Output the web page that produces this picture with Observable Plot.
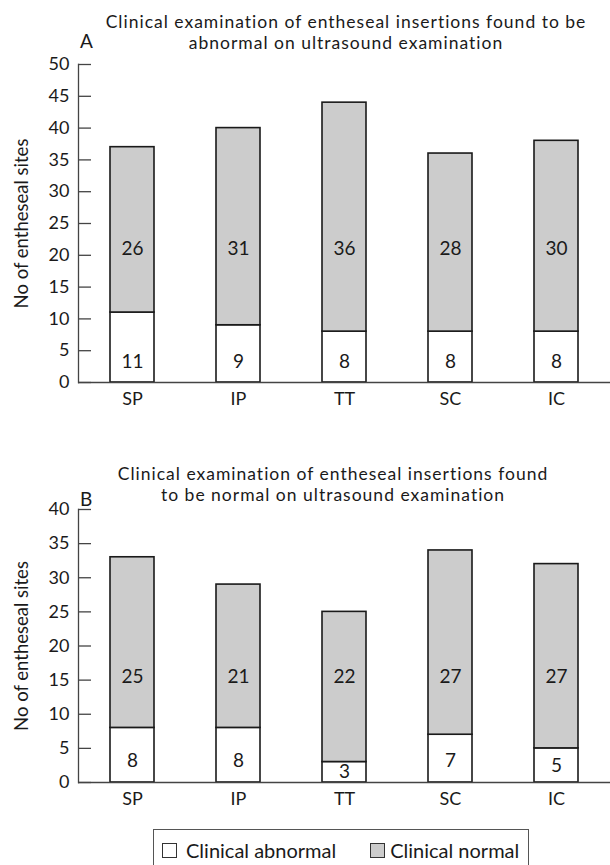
<!DOCTYPE html>
<html>
<head>
<meta charset="utf-8">
<script src="https://cdn.jsdelivr.net/npm/d3@7"></script>
<script src="https://cdn.jsdelivr.net/npm/@observablehq/plot@0.6"></script>
<style>
  body { margin: 0; background: #fff; font-family: Lato, "Noto Sans", sans-serif; color: #1a1a1a; }
  #root { position: relative; width: 610px; height: 865px; overflow: hidden; }
  .tline { position: absolute; transform: translateX(-50%); font-size: 17.5px; letter-spacing: 1px; line-height: 21px; height: 21px; white-space: nowrap; }
  .letter { position: absolute; font-size: 19px; line-height: 21px; }
  .chart { position: absolute; left: 0; }
  .legend { position: absolute; left: 153px; top: 829px; width: 376px; height: 42px; border: 1px solid #555; box-sizing: border-box;
            display: flex; align-items: center; padding-left: 8px; font-size: 20px; }
  .sw { width: 15px; height: 15px; border: 1px solid #333; box-sizing: border-box; display: inline-block; }
</style>
</head>
<body>
<div id="root"></div>
<script>
// ---- data ----
const sites = ["SP", "IP", "TT", "SC", "IC"];
const groups = ["Clinical abnormal", "Clinical normal"];
const abnormalA = [11, 9, 8, 8, 8];
const normalA = [26, 31, 36, 28, 30];
const abnormalB = [8, 8, 3, 7, 5];
const normalB = [25, 21, 22, 27, 27];
const ticksA = [0, 5, 10, 15, 20, 25, 30, 35, 40, 45, 50];
const ticksB = [0, 5, 10, 15, 20, 25, 30, 35, 40];
const titleA = ["Clinical examination of entheseal insertions found to be", "abnormal on ultrasound examination"];
const titleB = ["Clinical examination of entheseal insertions found", "to be normal on ultrasound examination"];
const yLabel = "No of entheseal sites";
const colors = ["#ffffff", "#cccccc"];

const root = document.getElementById("root");

function makeChart({abn, nor, ticks, plotH, top, normalLabelAt, title, titleX, titleY, letter, letterY}) {
  const rows = sites.flatMap((s, i) => [
    {site: s, group: groups[0], value: abn[i], labelY: Math.min(3.2, abn[i] / 2)},
    {site: s, group: groups[1], value: nor[i], labelY: normalLabelAt}
  ]);
  const mt = 64, mb = 38;
  const svg = Plot.plot({
    width: 610, height: mt + plotH + mb,
    marginLeft: 78, marginRight: 0, marginTop: mt, marginBottom: mb,
    x: {domain: sites, paddingInner: 0.586, paddingOuter: 0.293, label: null},
    y: {domain: [0, ticks[ticks.length - 1]], label: null},
    color: {domain: groups, range: colors},
    style: {fontFamily: "Lato, 'Noto Sans', sans-serif", fontSize: "18px", color: "#1a1a1a", overflow: "visible", background: "transparent"},
    marks: [
      Plot.barY(rows, Plot.stackY({x: "site", y: "value", fill: "group", stroke: "#1a1a1a", strokeWidth: 1.6})),
      Plot.text(rows, {x: "site", y: "labelY", text: "value", fontSize: 19, fill: "#1a1a1a"}),
      Plot.frame({anchor: "left", stroke: "#444", strokeWidth: 1.3}),
      Plot.ruleY([0], {stroke: "#444", strokeWidth: 1.5}),
      Plot.axisY(ticks, {tickSize: 0, tickPadding: 9, fontSize: 18, stroke: "none"}),
      Plot.axisY(ticks, {tickSize: 13, dx: 13, fill: "none", stroke: "#444", strokeWidth: 1.3}),
      Plot.axisX({tickSize: 0, tickPadding: 10, fontSize: 18}),
      Plot.text([yLabel], {text: d => d, frameAnchor: "left", textAnchor: "middle", rotate: -90, dx: -56, fontSize: 18.5})
    ]
  });
  svg.classList.add("chart");
  svg.style.top = top + "px";
  root.appendChild(svg);

  title.forEach((line, i) => {
    const t = document.createElement("div");
    t.className = "tline";
    t.style.left = titleX + "px";
    t.style.top = (titleY + i * 21) + "px";
    t.textContent = line;
    root.appendChild(t);
  });

  const l = document.createElement("div");
  l.className = "letter";
  l.style.left = "80px";
  l.style.top = letterY + "px";
  l.textContent = letter;
  root.appendChild(l);
}

makeChart({abn: abnormalA, nor: normalA, ticks: ticksA, plotH: 318, top: 0, normalLabelAt: 21,
           title: titleA, titleX: 346, titleY: 11, letter: "A", letterY: 30});
makeChart({abn: abnormalB, nor: normalB, ticks: ticksB, plotH: 273, top: 445, normalLabelAt: 15.5,
           title: titleB, titleX: 333, titleY: 463, letter: "B", letterY: 488});

// legend
const lg = document.createElement("div");
lg.className = "legend";
groups.forEach((g, i) => {
  const sw = document.createElement("span");
  sw.className = "sw";
  sw.style.background = colors[i];
  sw.style.marginRight = i === 0 ? "9px" : "5px";
  lg.appendChild(sw);
  const tx = document.createElement("span");
  tx.textContent = g;
  tx.style.marginRight = i === 0 ? "34px" : "0";
  lg.appendChild(tx);
});
root.appendChild(lg);
</script>
</body>
</html>
